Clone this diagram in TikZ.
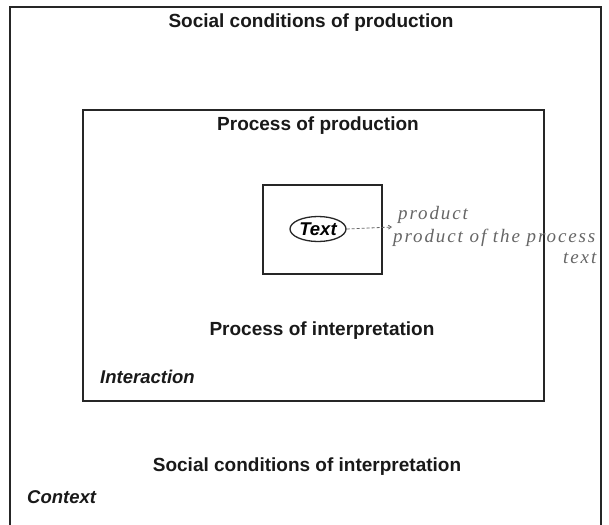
\documentclass[tikz,border=0pt]{standalone}
\usepackage{fontspec}
\setmainfont{Liberation Sans}
\newfontfamily\handfont[LetterSpace=10]{Liberation Serif}
\usetikzlibrary{shapes.geometric,arrows.meta}
\begin{document}
\begin{tikzpicture}[x=1pt,y=-1pt,
  box/.style={draw=black!85,line width=1.6pt,inner sep=0pt,anchor=north west},
  lbl/.style={font=\bfseries\fontsize{19}{21}\selectfont,text=black!90,inner sep=0pt},
  ilbl/.style={font=\bfseries\itshape\fontsize{18.5}{20}\selectfont,text=black!90,inner sep=0pt,anchor=west},
  hand/.style={font=\handfont\itshape\fontsize{19}{21}\selectfont,text=black!60,inner sep=0pt,anchor=west},
  handline/.style={draw=black!60,line width=0.8pt,dashed,dash pattern=on 3pt off 2pt}]
\useasboundingbox (0,0) rectangle (609,524);
\clip (0,0) rectangle (609,524);
\fill[white] (0,0) rectangle (609,524);
% boxes
\node[box,minimum width=591pt,minimum height=540pt] (context) at (9,6) {};
\node[box,minimum width=461pt,minimum height=291pt] (interaction) at (82,109) {};
\node[box,minimum width=119pt,minimum height=89pt] (textbox) at (262,184) {};
\node[draw=black!85,line width=1.3pt,ellipse,minimum width=56pt,minimum height=25pt,inner sep=0pt,
  font=\bfseries\itshape\fontsize{18.5}{20}\selectfont] (txt) at (318,229) {Text};
% labels
\node[lbl] (scp) at (311,23) {Social conditions of production};
\node[lbl] (pp) at (318,126) {Process of production};
\node[lbl] (pi) at (322,331) {Process of interpretation};
\node[lbl] (sci) at (307,467) {Social conditions of interpretation};
\node[ilbl] (inter) at (100,377) {Interaction};
\node[ilbl] (ctx) at (27,497) {Context};
% handwritten annotation
\coordinate (dend) at (392,227);
\draw[handline,-{Straight Barb[length=3pt,width=4pt]}] (txt.east) -- (dend);
\node[hand] (hw1) at (398,215) {product};
\node[hand] (hw2) at (393,238) {product of the process};
\node[hand] (hw3) at (563,258) {text};
\end{tikzpicture}
\end{document}
